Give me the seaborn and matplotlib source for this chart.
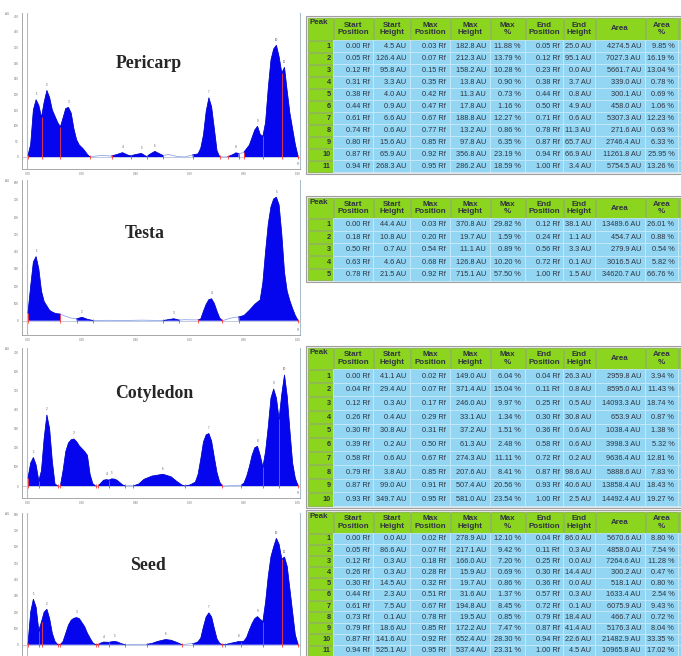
import numpy as np
import pandas as pd
import matplotlib
matplotlib.use("Agg")
import matplotlib.pyplot as plt
import seaborn as sns
from matplotlib.patches import Rectangle

sns.set_style("white")
plt.rcParams['font.family'] = ['Liberation Sans', 'DejaVu Sans']

# ---------------- densitogram curves (Rf, AU) ----------------
peri_rf = [0.00,0.01,0.02,0.03,0.04,0.05,0.06,0.07,0.08,0.09,0.10,0.11,0.12,0.13,0.14,0.15,0.16,0.17,0.18,0.19,0.20,0.21,0.22,0.23,
           0.25,0.27,0.29,0.31,0.33,0.35,0.37,0.38,0.40,0.42,0.44,0.45,0.47,0.49,0.50,0.52,0.55,0.58,0.61,0.63,0.64,0.65,0.66,0.67,
           0.68,0.69,0.70,0.71,0.73,0.74,0.76,0.77,0.78,0.79,0.80,0.82,0.84,0.85,0.86,0.87,0.88,0.89,0.90,0.91,0.92,0.93,0.94,0.95,
           0.96,0.97,0.98,0.99,1.00]
peri_au = [4.5,40,150,182.8,165,126.4,175,212.3,190,150,130,110,95.8,125,155,158.2,140,90,55,38,30,20,8,0.0,
           3,5,4,3.3,8,13.8,6,3.7,8,11.3,0.8,8,17.8,9,4.9,8,2,0,6.6,10,28,70,145,188.8,
           160,91,20,0.6,0,0.6,8,13.2,11.3,12,15.6,38,86,97.8,72,65.9,110,220,310,345,356.8,320,268.3,286.2,
           210,140,90,40,3.4]

testa_rf = [0.00,0.01,0.02,0.03,0.04,0.05,0.06,0.07,0.08,0.09,0.10,0.11,0.12,0.14,0.16,0.18,0.19,0.20,0.22,0.24,0.30,0.36,0.42,
            0.46,0.50,0.52,0.54,0.56,0.58,0.60,0.63,0.64,0.65,0.66,0.67,0.68,0.69,0.70,0.71,0.72,0.74,0.76,0.78,0.80,0.82,0.84,
            0.86,0.87,0.88,0.89,0.90,0.91,0.92,0.93,0.94,0.95,0.96,0.97,0.98,0.99,1.00]
testa_au = [44.4,200,340,370.8,300,170,110,85,60,50,43,40,38.1,25,15,10.8,15,19.7,8,1.1,2,1,3,
            2,0.7,6,11.1,3.3,6,5,4.6,10,55,95,122,126.8,100,55,15,0.1,10,18,21.5,30,60,95,
            120,220,400,560,660,705,715.1,670,500,280,170,115,70,30,1.5]

coty_rf = [0.00,0.01,0.02,0.03,0.04,0.05,0.06,0.07,0.08,0.09,0.10,0.11,0.115,0.12,0.13,0.14,0.15,0.16,0.17,0.18,0.19,0.20,0.21,
           0.22,0.23,0.24,0.25,0.255,0.26,0.27,0.28,0.29,0.30,0.31,0.32,0.33,0.34,0.35,0.36,0.38,0.39,0.41,0.43,0.46,0.50,0.53,
           0.55,0.57,0.58,0.60,0.62,0.63,0.64,0.65,0.66,0.67,0.68,0.69,0.70,0.71,0.72,0.75,0.77,0.79,0.80,0.81,0.82,0.83,0.84,
           0.85,0.86,0.87,0.88,0.89,0.90,0.91,0.92,0.93,0.94,0.95,0.96,0.97,0.98,0.99,1.00]
coty_au = [41.1,120,149,110,26.3,80,250,371.4,300,130,10,0.8,0,0.3,80,180,225,242,246,232,210,195,180,
           160,60,12,0.5,0,0.4,15,30,33.1,30.8,37.2,36,30,18,6,0.6,2,0.2,10,35,52,61.3,48,
           25,5,0.6,5,20,60,140,230,268,274.3,235,150,70,20,0.2,2,3,3.8,15,50,100,160,200,
           207.6,160,98.6,180,310,460,507.4,460,349.7,480,581,470,290,120,40,2.5]

seed_rf = [0.00,0.01,0.02,0.03,0.04,0.05,0.06,0.07,0.08,0.09,0.10,0.11,0.12,0.13,0.14,0.15,0.16,0.17,0.18,0.19,0.20,0.21,0.22,
           0.23,0.24,0.25,0.26,0.27,0.28,0.29,0.30,0.31,0.32,0.33,0.34,0.35,0.36,0.38,0.41,0.44,0.46,0.48,0.51,0.53,0.55,0.57,
           0.59,0.61,0.62,0.63,0.64,0.65,0.66,0.67,0.68,0.69,0.70,0.71,0.72,0.73,0.75,0.77,0.78,0.79,0.80,0.81,0.82,0.83,0.84,
           0.85,0.86,0.87,0.88,0.89,0.90,0.91,0.92,0.93,0.94,0.95,0.96,0.97,0.98,0.99,1.00]
seed_au = [0.0,200,278.9,230,86.0,140,200,217.1,160,70,20,0.3,0.3,20,70,120,150,162,166,160,135,110,70,
           40,12,0.0,0.3,10,15.9,15,14.4,18,19.7,17,10,4,0.0,1,2,2.3,8,20,31.6,27,15,0.3,
           4,7.5,10,18,40,110,170,194.8,170,100,35,8,0.1,0.1,8,15,19.5,18.4,22,45,90,130,160,
           172.2,155,141.6,260,420,540,600,652.4,615,525.1,537.4,480,340,200,60,4.5]

# ---------------- peak tables ----------------
peri_start_pos = [0.00,0.05,0.12,0.31,0.38,0.44,0.61,0.74,0.80,0.87,0.94]
peri_start_h = [4.5,126.4,95.8,3.3,4.0,0.9,6.6,0.6,15.6,65.9,268.3]
peri_max_pos = [0.03,0.07,0.15,0.35,0.42,0.47,0.67,0.77,0.85,0.92,0.95]
peri_max_h = [182.8,212.3,158.2,13.8,11.3,17.8,188.8,13.2,97.8,356.8,286.2]
peri_max_pct = [11.88,13.79,10.28,0.90,0.73,1.16,12.27,0.86,6.35,23.19,18.59]
peri_end_pos = [0.05,0.12,0.23,0.38,0.44,0.50,0.71,0.78,0.87,0.94,1.00]
peri_end_h = [25.0,95.1,0.0,3.7,0.8,4.9,0.6,11.3,65.7,66.9,3.4]
peri_area = [4274.5,7027.3,5661.7,339.0,300.1,458.0,5307.3,271.6,2746.4,11261.8,5754.5]
peri_area_pct = [9.85,16.19,13.04,0.78,0.69,1.06,12.23,0.63,6.33,25.95,13.26]

testa_start_pos = [0.00,0.18,0.50,0.63,0.78]
testa_start_h = [44.4,10.8,0.7,4.6,21.5]
testa_max_pos = [0.03,0.20,0.54,0.68,0.92]
testa_max_h = [370.8,19.7,11.1,126.8,715.1]
testa_max_pct = [29.82,1.59,0.89,10.20,57.50]
testa_end_pos = [0.12,0.24,0.56,0.72,1.00]
testa_end_h = [38.1,1.1,3.3,0.1,1.5]
testa_area = [13489.6,454.7,279.9,3016.5,34620.7]
testa_area_pct = [26.01,0.88,0.54,5.82,66.76]

coty_start_pos = [0.00,0.04,0.12,0.26,0.30,0.39,0.58,0.79,0.87,0.93]
coty_start_h = [41.1,29.4,0.3,0.4,30.8,0.2,0.6,3.8,99.0,349.7]
coty_max_pos = [0.02,0.07,0.17,0.29,0.31,0.50,0.67,0.85,0.91,0.95]
coty_max_h = [149.0,371.4,246.0,33.1,37.2,61.3,274.3,207.6,507.4,581.0]
coty_max_pct = [6.04,15.04,9.97,1.34,1.51,2.48,11.11,8.41,20.56,23.54]
coty_end_pos = [0.04,0.11,0.25,0.30,0.36,0.58,0.72,0.87,0.93,1.00]
coty_end_h = [26.3,0.8,0.5,30.8,0.6,0.6,0.2,98.6,40.6,2.5]
coty_area = [2959.8,8595.0,14093.3,653.9,1038.4,3998.3,9636.4,5888.6,13858.4,14492.4]
coty_area_pct = [3.94,11.43,18.74,0.87,1.38,5.32,12.81,7.83,18.43,19.27]

seed_start_pos = [0.00,0.05,0.12,0.26,0.30,0.44,0.61,0.73,0.79,0.87,0.94]
seed_start_h = [0.0,86.6,0.3,0.3,14.5,2.3,7.5,0.1,18.6,141.6,525.1]
seed_max_pos = [0.02,0.07,0.18,0.28,0.32,0.51,0.67,0.78,0.85,0.92,0.95]
seed_max_h = [278.9,217.1,166.0,15.9,19.7,31.6,194.8,19.5,172.2,652.4,537.4]
seed_max_pct = [12.10,9.42,7.20,0.69,0.86,1.37,8.45,0.85,7.47,28.30,23.31]
seed_end_pos = [0.04,0.11,0.25,0.30,0.36,0.57,0.72,0.79,0.87,0.94,1.00]
seed_end_h = [86.0,0.3,0.0,14.4,0.0,0.3,0.1,18.4,41.4,22.6,4.5]
seed_area = [5670.6,4858.0,7264.6,300.2,518.1,1633.4,6075.9,466.7,5176.3,21482.9,10965.8]
seed_area_pct = [8.80,7.54,11.28,0.47,0.80,2.54,9.43,0.72,8.04,33.35,17.02]

titles = ["Pericarp", "Testa", "Cotyledon", "Seed"]
col_headers = ["Peak", "Start\nPosition", "Start\nHeight", "Max\nPosition", "Max\nHeight", "Max\n%",
               "End\nPosition", "End\nHeight", "Area", "Area\n%"]
x_ticks = [0.0, 0.2, 0.4, 0.6, 0.8, 1.0]

# ---------------- figure ----------------
W, H = 681, 656
fig = plt.figure(figsize=(W / 100, H / 100), dpi=100)


def px_axes(left, top, right, bottom):
    return fig.add_axes([left / W, 1 - bottom / H, (right - left) / W, (bottom - top) / H])


FILL = '#0606ee'
LINE_LT = '#8fa6e8'
RED = '#ff3b3b'

panels = [
    dict(rf=peri_rf, au=peri_au, sp=peri_start_pos, ep=peri_end_pos, mp=peri_max_pos, mh=peri_max_h,
         top=13, bottom=169, zero=157, scale=0.313, yticks=range(0, 451, 50), title_xy=(149, 63), xlab=True),
    dict(rf=testa_rf, au=testa_au, sp=testa_start_pos, ep=testa_end_pos, mp=testa_max_pos, mh=testa_max_h,
         top=180, bottom=335, zero=320.7, scale=0.1726, yticks=range(0, 801, 100), title_xy=(145, 234), xlab=True),
    dict(rf=coty_rf, au=coty_au, sp=coty_start_pos, ep=coty_end_pos, mp=coty_max_pos, mh=coty_max_h,
         top=347.7, bottom=498, zero=486, scale=0.191, yticks=range(0, 701, 100), title_xy=(154.5, 394), xlab=True),
    dict(rf=seed_rf, au=seed_au, sp=seed_start_pos, ep=seed_end_pos, mp=seed_max_pos, mh=seed_max_h,
         top=512.7, bottom=658, zero=644.7, scale=0.163, yticks=range(0, 801, 100), title_xy=(148, 566), xlab=False),
]

for i, p in enumerate(panels):
    ax = px_axes(22, p['top'], 300, p['bottom'])
    rf = np.array(p['rf'])
    au = np.array(p['au'])
    ylo = -(p['bottom'] - p['zero']) / p['scale']
    yhi = (p['zero'] - p['top']) / p['scale']
    ax.set_xlim((22 - 28) / 270, (300 - 28) / 270)
    ax.set_ylim(ylo, yhi)

    mask = np.zeros(len(rf), dtype=bool)
    for s, e in zip(p['sp'], p['ep']):
        mask |= (rf >= s - 1e-9) & (rf <= e + 1e-9)

    ax.axhline(0, color='#b5c3de', lw=0.6, zorder=1)
    df = pd.DataFrame({'Rf': rf, 'AU': au})
    sns.lineplot(data=df, x='Rf', y='AU', ax=ax, color=LINE_LT, lw=0.6,
                 estimator=None, sort=False, zorder=2)
    ax.fill_between(rf, au, 0, where=mask, color=FILL, lw=0, zorder=3)
    ax.plot(rf, np.where(mask, au, np.nan), color='#0000c8', lw=0.5, zorder=4)

    # peak boundaries
    bounds = sorted(set(p['sp']) | set(p['ep']))
    for b in bounds:
        h = np.interp(b, rf, au)
        ax.vlines(b, 0, h, color=RED, lw=0.6, zorder=5)
    ax.plot(bounds, [0] * len(bounds), ls='none', marker='|', ms=2.5, mew=0.6, color=RED, zorder=5)
    # peak labels
    for k, (mpos, mh) in enumerate(zip(p['mp'], p['mh'])):
        ht = np.interp(mpos, rf, au)
        ax.text(mpos, ht + 3.6 / p['scale'], str(k + 1), fontsize=2.2, color='#555555',
                ha='center', va='bottom', zorder=6)

    # frame
    ax.axvline(-0.004, color='#a9bfd0', lw=0.8, zorder=0)
    for side in ['top', 'bottom']:
        ax.spines[side].set_visible(False)
    ax.spines['right'].set_color('#a9bfd0')
    ax.spines['right'].set_linewidth(0.8)
    ax.spines['left'].set_color('#9a9a9a')
    ax.spines['left'].set_linewidth(0.6)
    ax.set_yticks(list(p['yticks']))
    ax.set_yticklabels([str(v) for v in p['yticks']], fontsize=2.2, color='#777777')
    ax.tick_params(axis='y', length=1.5, width=0.4, color='#888888', pad=1)
    ax.set_xlabel('')
    ax.set_ylabel('')
    if p['xlab']:
        ax.spines['bottom'].set_visible(True)
        ax.spines['bottom'].set_color('#9a9a9a')
        ax.spines['bottom'].set_linewidth(0.6)
        ax.set_xticks(x_ticks)
        ax.set_xticklabels([f"{v:.2f}" for v in x_ticks], fontsize=2.2, color='#777777')
        ax.tick_params(axis='x', length=1.5, width=0.4, color='#888888', pad=0.5)
        ax.text(1.0, ylo + 4 / p['scale'], 'Rf', fontsize=2.2, color='#777777', ha='center')
    else:
        ax.set_xticks([])
    ax.text((7 - 28) / 270, yhi + 1 / p['scale'], 'AU', fontsize=2.2, color='#777777', ha='center',
            va='top', clip_on=False)
    ax.set_facecolor('none')

    fig.text(p['title_xy'][0] / W, 1 - p['title_xy'][1] / H, titles[i], fontsize=12.8,
             fontweight='bold', family=['Liberation Serif', 'DejaVu Serif'], ha='center', va='center')

# ---------------- tables ----------------
tab = fig.add_axes([0, 0, 1, 1])
tab.set_xlim(0, W)
tab.set_ylim(H, 0)
tab.axis('off')
tab.set_zorder(10)
tab.patch.set_alpha(0)

GREEN = '#8cd51e'
BLUE = '#92d6f4'
TXT = '#2f3440'
col_edges = [307.7, 333.3, 373.3, 410, 450, 490, 525, 563.3, 595, 645, 678.3, 720]

tables = [
    (17, 40, 12.0, [peri_start_pos, peri_start_h, peri_max_pos, peri_max_h, peri_max_pct,
                    peri_end_pos, peri_end_h, peri_area, peri_area_pct]),
    (197, 218, 12.5, [testa_start_pos, testa_start_h, testa_max_pos, testa_max_h, testa_max_pct,
                      testa_end_pos, testa_end_h, testa_area, testa_area_pct]),
    (347, 369, 13.7, [coty_start_pos, coty_start_h, coty_max_pos, coty_max_h, coty_max_pct,
                      coty_end_pos, coty_end_h, coty_area, coty_area_pct]),
    (511, 533, 11.2, [seed_start_pos, seed_start_h, seed_max_pos, seed_max_h, seed_max_pct,
                      seed_end_pos, seed_end_h, seed_area, seed_area_pct]),
]
fmts = [lambda v: f"{v:.2f} Rf", lambda v: f"{v:.1f} AU", lambda v: f"{v:.2f} Rf", lambda v: f"{v:.1f} AU",
        lambda v: f"{v:.2f} %", lambda v: f"{v:.2f} Rf", lambda v: f"{v:.1f} AU", lambda v: f"{v:.1f} AU",
        lambda v: f"{v:.2f} %"]

for top, hdr_bot, rh, cols in tables:
    n = len(cols[0])
    bottom = hdr_bot + n * rh
    tab.add_patch(Rectangle((col_edges[0] - 1.5, top - 1.5), col_edges[-1] - col_edges[0] + 3,
                            bottom - top + 3, facecolor='#e8e8e8', edgecolor='#a0a0a0', lw=0.8))
    for c in range(len(col_edges) - 1):
        x0, x1 = col_edges[c], col_edges[c + 1]
        tab.add_patch(Rectangle((x0 + 0.5, top + 0.5), x1 - x0 - 1, hdr_bot - top - 1,
                                facecolor=GREEN, edgecolor='#6e9e2a', lw=0.4))
        if c < len(col_headers):
            if c == 0:
                tab.text(x0 + 2, top + 6, col_headers[c], fontsize=5.8, fontweight='bold', color=TXT,
                         ha='left', va='center')
            else:
                tab.text((x0 + x1) / 2, (top + hdr_bot) / 2 + 0.5, col_headers[c], fontsize=5.8,
                         fontweight='bold', color=TXT, ha='center', va='center', linespacing=1.05)
    for r in range(n):
        y0 = hdr_bot + r * rh
        yc = y0 + rh / 2
        tab.add_patch(Rectangle((col_edges[0] + 0.5, y0 + 0.5), col_edges[1] - col_edges[0] - 1, rh - 1,
                                facecolor=GREEN, edgecolor='#6e9e2a', lw=0.4))
        tab.text(col_edges[1] - 2.5, yc + 0.3, str(r + 1), fontsize=5.3, fontweight='bold', color=TXT,
                 ha='right', va='center')
        for c in range(1, len(col_edges) - 1):
            x0, x1 = col_edges[c], col_edges[c + 1]
            tab.add_patch(Rectangle((x0, y0), x1 - x0, rh, facecolor=BLUE, edgecolor='#cdebf8', lw=0.5))
            if c - 1 < len(cols):
                tab.text(x1 - 4, yc + 0.3, fmts[c - 1](cols[c - 1][r]), fontsize=5.3, color=TXT,
                         ha='right', va='center')

fig.savefig('out.png', dpi=100)
